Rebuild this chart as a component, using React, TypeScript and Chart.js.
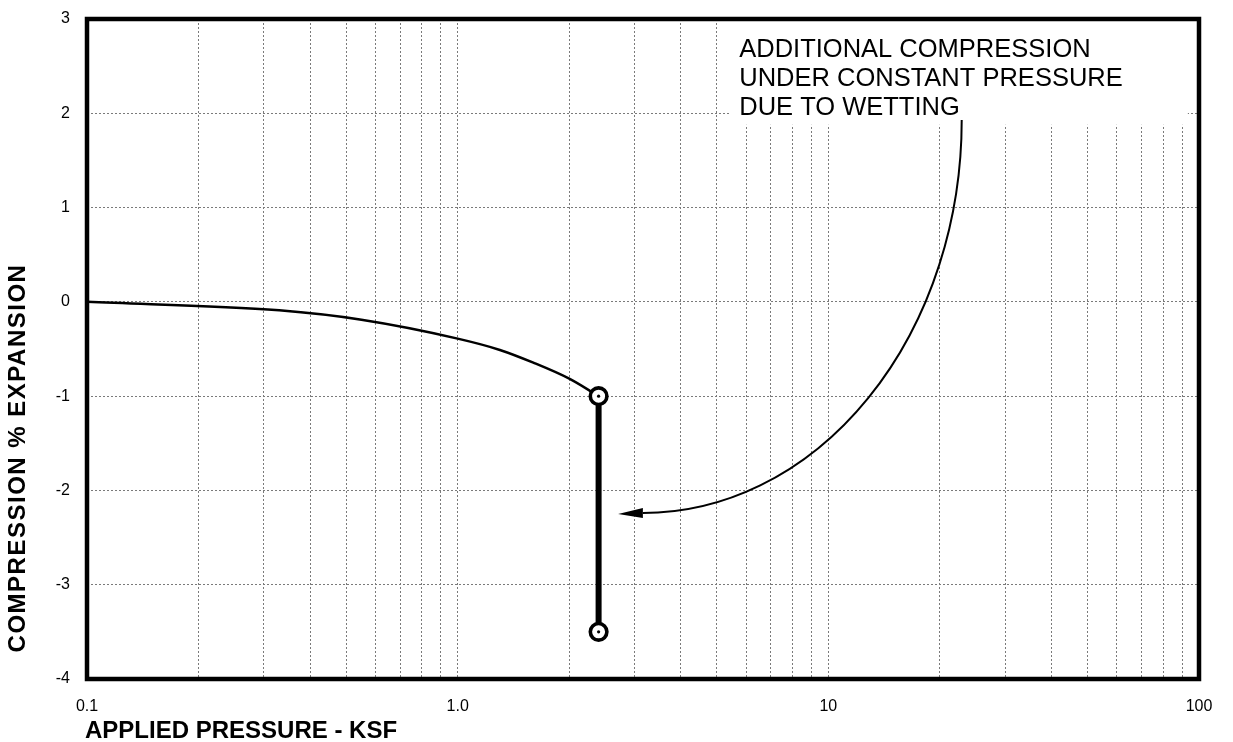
import React, { useEffect, useRef } from 'react';
import { Chart, registerables } from 'chart.js';

Chart.register(...registerables);

// ---- data ----
const curvePressure = [0.1, 0.33, 0.55, 1.0, 1.3, 1.6, 2.0, 2.4];
const curveStrain = [0, -0.09, -0.19, -0.39, -0.51, -0.645, -0.815, -1.0];

const wettingPressure = [2.4, 2.4];
const wettingStrain = [-1.0, -3.5];

const xTickValues = [
  0.1, 0.2, 0.3, 0.4, 0.5, 0.6, 0.7, 0.8, 0.9,
  1, 2, 3, 4, 5, 6, 7, 8, 9,
  10, 20, 30, 40, 50, 60, 70, 80, 90,
  100,
];
const xLabelValues = [0.1, 1, 10, 100];
const xLabelTexts = ['0.1', '1.0', '10', '100'];
const yTickValues = [3, 2, 1, 0, -1, -2, -3, -4];

const noteLines = ['ADDITIONAL COMPRESSION', 'UNDER CONSTANT PRESSURE', 'DUE TO WETTING'];
const xTitle = 'APPLIED PRESSURE - KSF';
const yTitle = 'COMPRESSION % EXPANSION';

// annotation anchors (data coordinates)
const noteBoxLeft = 5.43;
const noteBoxRight = 93.3;
const noteBoxBottom = 1.878;
const noteTextX = 5.75;
const noteTextY = 2.6;
const arrowCenter = [3.16, 1.93];
const arrowStart = [22.9, 1.93];
const arrowEnd = [3.16, -2.24];
const arrowTip = [2.71, -2.25];

const FONT = "'Liberation Sans', Arial, Helvetica, sans-serif";

function labelFor(v: number): string {
  for (let i = 0; i < xLabelValues.length; i++) {
    if (Math.abs(v - xLabelValues[i]) < xLabelValues[i] * 1e-6) return xLabelTexts[i];
  }
  return '';
}

const decorPlugin = {
  id: 'decor',
  beforeDraw(chart: any) {
    const ctx = chart.ctx;
    ctx.save();
    ctx.fillStyle = '#ffffff';
    ctx.fillRect(0, 0, chart.width, chart.height);
    ctx.restore();
  },
  beforeDatasetsDraw(chart: any) {
    const { ctx, chartArea } = chart;
    const x = chart.scales.x;
    const y = chart.scales.y;
    ctx.save();
    const bx0 = x.getPixelForValue(noteBoxLeft);
    const bx1 = x.getPixelForValue(noteBoxRight);
    const by0 = chartArea.top;
    const by1 = y.getPixelForValue(noteBoxBottom);
    ctx.fillStyle = '#ffffff';
    ctx.fillRect(bx0, by0, bx1 - bx0, by1 - by0);
    ctx.fillStyle = '#000000';
    ctx.font = `25.5px ${FONT}`;
    ctx.textAlign = 'left';
    ctx.textBaseline = 'alphabetic';
    const tx = x.getPixelForValue(noteTextX);
    const ty = y.getPixelForValue(noteTextY);
    noteLines.forEach((line, i) => ctx.fillText(line, tx, ty + i * 29.3));
    ctx.restore();
  },
  afterDatasetsDraw(chart: any) {
    const { ctx } = chart;
    const x = chart.scales.x;
    const y = chart.scales.y;
    const cx = x.getPixelForValue(arrowCenter[0]);
    const cy = y.getPixelForValue(arrowCenter[1]);
    const sx = x.getPixelForValue(arrowStart[0]);
    const ey = y.getPixelForValue(arrowEnd[1]);
    const ex = x.getPixelForValue(arrowEnd[0]);
    const tx = x.getPixelForValue(arrowTip[0]);
    const ty = y.getPixelForValue(arrowTip[1]);
    ctx.save();
    ctx.strokeStyle = '#000';
    ctx.lineWidth = 2;
    ctx.beginPath();
    ctx.ellipse(cx, cy, sx - cx, ey - cy, 0, 0, Math.PI / 2);
    ctx.stroke();
    ctx.fillStyle = '#000';
    ctx.beginPath();
    ctx.moveTo(tx, ty);
    ctx.lineTo(ex, ey - 5);
    ctx.lineTo(ex, ey + 5);
    ctx.closePath();
    ctx.fill();
    ctx.restore();
  },
  afterDraw(chart: any) {
    const { ctx, chartArea } = chart;
    ctx.save();
    ctx.strokeStyle = '#000';
    ctx.lineWidth = 4.5;
    ctx.lineJoin = 'miter';
    ctx.strokeRect(chartArea.left, chartArea.top, chartArea.right - chartArea.left, chartArea.bottom - chartArea.top);

    // x title
    ctx.fillStyle = '#000';
    ctx.font = `bold 24px ${FONT}`;
    ctx.textAlign = 'left';
    ctx.textBaseline = 'alphabetic';
    ctx.fillText(xTitle, 85, 738);

    // y title
    ctx.translate(18, 458);
    ctx.rotate(-Math.PI / 2);
    ctx.font = `bold 24px ${FONT}`;
    try { (ctx as any).letterSpacing = '1.5px'; } catch (e) { /* ignore */ }
    ctx.textAlign = 'center';
    ctx.textBaseline = 'middle';
    ctx.fillText(yTitle, 0, 0);
    ctx.restore();
  },
};

export default function App() {
  const ref = useRef<HTMLCanvasElement>(null);

  useEffect(() => {
    const canvas = ref.current;
    if (!canvas) return;
    const curveData = curvePressure.map((p, i) => ({ x: p, y: curveStrain[i] }));
    const barData = wettingPressure.map((p, i) => ({ x: p, y: wettingStrain[i] }));

    const chart = new Chart(canvas, {
      type: 'scatter',
      data: {
        datasets: [
          {
            data: barData,
            showLine: false,
            pointRadius: 1.6,
            pointBackgroundColor: '#000',
            pointBorderWidth: 0,
            pointHoverRadius: 1.6,
          },
          {
            data: barData,
            showLine: false,
            pointRadius: 8.3,
            pointBorderWidth: 3.6,
            pointBackgroundColor: '#fff',
            pointBorderColor: '#000',
            pointHoverRadius: 8.3,
          },
          {
            data: barData,
            showLine: true,
            borderColor: '#000',
            borderWidth: 6,
            pointRadius: 0,
            borderCapStyle: 'butt',
          },
          {
            data: curveData,
            showLine: true,
            borderColor: '#000',
            borderWidth: 2.5,
            pointRadius: 0,
            cubicInterpolationMode: 'monotone',
          },
        ] as any,
      },
      options: {
        responsive: false,
        animation: false,
        events: [],
        layout: { padding: { top: 19, right: 34, left: 0, bottom: 0 } },
        plugins: {
          legend: { display: false },
          tooltip: { enabled: false },
          title: { display: false },
        },
        scales: {
          x: {
            type: 'logarithmic',
            min: 0.1,
            max: 100,
            afterBuildTicks: (s: any) => {
              s.ticks = xTickValues.map((v) => ({ value: v }));
            },
            afterFit: (s: any) => {
              s.height = 63;
              s.paddingLeft = 0;
              s.paddingRight = 0;
            },
            ticks: {
              autoSkip: false,
              maxRotation: 0,
              minRotation: 0,
              padding: 18,
              color: '#000',
              font: { family: FONT, size: 16 },
              callback: (v: any) => labelFor(Number(v)),
            },
            grid: { color: '#7a7a7a', lineWidth: 1, drawTicks: false },
            border: { display: false, dash: [2, 2] },
          },
          y: {
            type: 'linear',
            min: -4,
            max: 3,
            afterBuildTicks: (s: any) => {
              s.ticks = yTickValues.map((v) => ({ value: v }));
            },
            afterFit: (s: any) => {
              s.width = 87;
              s.paddingTop = 0;
              s.paddingBottom = 0;
            },
            ticks: {
              padding: 17,
              color: '#000',
              font: { family: FONT, size: 16 },
              callback: (v: any) => String(v),
            },
            grid: { color: '#7a7a7a', lineWidth: 1, drawTicks: false },
            border: { display: false, dash: [2, 2] },
          },
        },
      } as any,
      plugins: [decorPlugin],
    });
    return () => chart.destroy();
  }, []);

  return (
    <div style={{ position: 'fixed', left: 0, top: 0, width: 1233, height: 742, background: '#fff' }}>
      <canvas ref={ref} width={1233} height={742} style={{ display: 'block', width: 1233, height: 742 }} />
    </div>
  );
}
